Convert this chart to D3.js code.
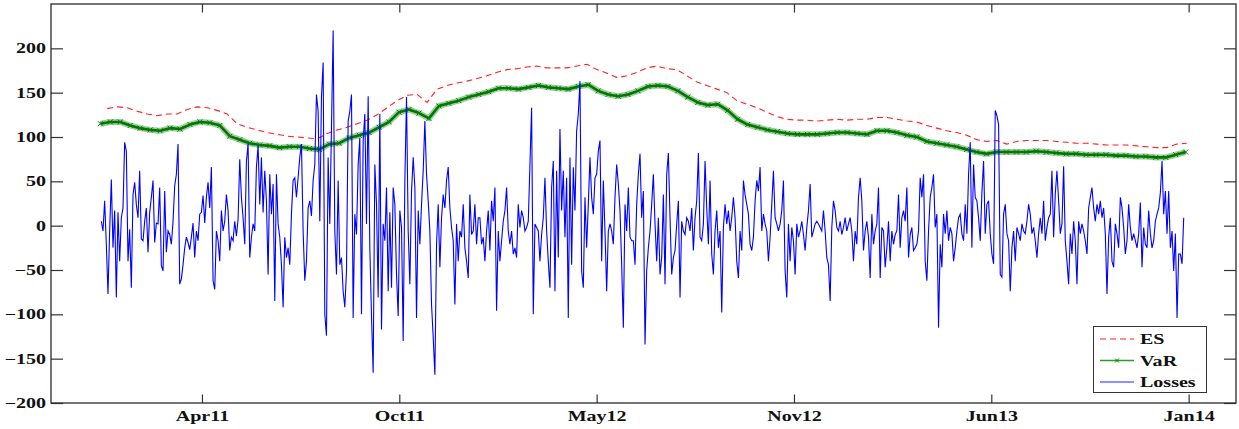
<!DOCTYPE html>
<html><head><meta charset="utf-8">
<script src="https://cdn.jsdelivr.net/npm/d3@7"></script>
<style>html,body{margin:0;padding:0;background:#fff}svg{display:block}</style>
</head><body><svg id="chart" width="1239" height="429"></svg>
<script>
// ---------------- data ----------------
const xTickDates = ["2011-04-07","2011-10-24","2012-05-11","2012-11-27","2013-06-15","2014-01-01"];
const xTickLabels = ["Apr11","Oct11","May12","Nov12","Jun13","Jan14"];
const yTicks = [-200,-150,-100,-50,0,50,100,150,200];
const xDomain = ["2010-11-05","2014-02-18"];
const yDomain = [-200,250];
const lossesPeriod = ["2010-12-26","2013-12-27"];
const varPeriod = ["2010-12-25","2013-12-29"];
const esPeriod = ["2011-01-01","2013-12-30"];
const seriesNames = ["ES","VaR","Losses"];

const losses = [
5,-6,28,-21,-77,-6,52,-25,17,-81,15,-40,9,20,94,84,-40,-4,-70,35,
49,24,9,62,-15,-17,5,20,-30,15,32,51,-19,3,2,43,-45,-51,39,-30,
-6,-10,-21,5,45,58,92,-66,-60,-44,-25,-13,-19,-27,-13,3,-36,-6,-17,13,
15,34,3,32,49,20,66,-62,-72,-6,-17,-40,17,-6,5,35,17,-28,-13,-17,
5,-12,7,75,32,9,-21,73,92,-36,-13,2,-6,66,90,24,77,15,62,28,
-55,58,13,47,-85,58,2,-13,-44,-92,-13,-36,-25,-44,13,51,54,32,54,77,
92,-6,-62,-40,20,28,11,51,69,148,129,5,145,184,-100,-124,77,2,111,220,
-6,-55,51,-44,-36,-74,-92,-51,118,129,148,-104,13,-10,69,99,-100,96,126,2,
146,-25,-102,-166,
69,24,-81,126,-117,2,-17,43,-74,15,-70,43,24,-55,-102,17,-2,-130,51,145,
-6,-66,39,77,43,-104,17,-21,24,62,118,58,28,-6,-89,-126,-168,-21,24,-47,
9,35,20,51,66,20,-2,-17,-89,2,-40,-6,-13,24,-25,-40,-59,35,-10,-6,
24,-21,9,9,-21,-13,-40,-6,17,-28,28,5,43,-96,-6,-40,-17,5,17,43,
-6,-21,-6,-32,-25,-36,24,-2,17,9,-6,-2,5,69,133,-100,2,-2,-6,-40,
-10,9,54,-6,-40,-70,43,73,-74,62,-36,109,17,62,-13,54,-104,77,-44,66,
17,107,126,163,-51,-70,32,-25,24,77,32,13,54,58,84,96,-40,51,-6,-74,
-6,2,-6,-21,32,69,47,17,-44,-115,24,-6,43,-13,-17,-17,-44,24,58,81,
9,39,-134,-51,-25,-6,24,58,
2,-40,9,-55,-36,35,-66,58,82,9,-55,-36,-28,2,28,-81,5,-6,-10,9,
5,-6,20,-28,9,28,82,-13,-17,2,73,20,-21,51,-32,-55,-6,17,-25,-6,
-98,-2,24,2,17,-6,9,32,9,-40,-59,-6,-28,51,35,24,13,-21,-28,-13,
28,51,39,66,-6,13,2,-6,-40,-13,24,62,9,2,-6,2,17,51,-51,-81,
2,-40,-2,-17,-55,2,-13,-6,5,-10,-28,-2,17,47,-13,-6,2,5,2,-2,
-6,17,-6,-36,-44,-85,-2,28,17,-2,-6,5,-10,-2,9,-6,2,9,-6,-40,
-6,-21,32,54,28,-28,-6,5,-13,-59,13,-21,-6,2,43,-59,-2,-6,-47,-25,
5,-40,-6,-21,-10,-6,35,-25,9,17,5,43,-36,-10,-2,-28,-25,-21,-6,54,
32,58,-40,-62,-6,32,43,58,
-2,13,-115,-21,-47,13,-9,17,-17,-2,-9,-40,-25,-6,9,13,-9,-17,24,-9,
58,94,-25,69,32,28,9,-17,37,73,-9,24,28,-9,-32,-43,130,124,114,-55,
-58,13,24,-9,-17,-74,-25,-6,-40,-2,-9,-17,2,-6,-9,5,24,13,-9,-2,
-17,-36,-9,9,-9,28,-17,-2,9,13,62,-13,36,62,28,-9,2,67,-17,-40,
-66,-9,-32,5,-17,-66,5,-9,2,-6,-17,-32,20,32,43,20,5,24,13,28,
9,20,-9,-77,-13,9,-40,-47,2,-9,-25,32,20,-2,-32,-17,24,-2,-17,-9,
-17,-25,-9,26,-47,-2,-21,-25,17,-9,-25,-17,5,13,20,37,73,13,39,-9,
39,-25,-6,-51,-9,-104,-32,-32,-43,9
];

const VaR = [
115,117,117,113,110,108,107,110,109,114,117,116,113,101,97,93,91,90,88,89,
89,87,86,92,93,99,102,105,111,117,128,131,127,121,135,138,141,145,148,151,
155,155,154,156,158,156,155,154,157,159,152,148,146,148,152,157,158,157,152,145,
139,136,137,130,120,114,111,108,106,104,103,103,103,104,105,105,104,103,107,107,
105,102,100,95,93,91,89,86,83,81,83,83,83,83,84,83,82,81,81,80,
80,80,79,79,78,78,77,77,80,83
];

const ES = [
132,134,133,129,126,124,126,126,131,134,133,130,126,115,111,108,105,103,101,100,
99,98,104,108,111,115,119,125,133,141,147,148,139,154,158,161,163,166,169,173,
176,177,179,180,178,178,178,180,182,176,172,167,169,173,178,180,177,176,169,162,
158,154,150,141,137,133,128,123,120,119,119,118,119,120,119,120,120,122,122,120,
118,117,113,110,107,105,102,97,95,96,92,95,96,96,96,95,94,93,93,92,
91,91,91,90,89,88,88,92,93
];

// ---------------- drawing ----------------
const parse = d3.timeParse("%Y-%m-%d");
const svg = d3.select("#chart");
const L = 51, R = 1236, T = 4, B = 403;
const x = d3.scaleTime().domain(xDomain.map(parse)).range([L, R]);
const y = d3.scaleLinear().domain(yDomain).range([B, T]);

function withDates(values, period) {
  const t0 = +parse(period[0]), t1 = +parse(period[1]), n = values.length;
  return values.map((v, i) => ({date: new Date(t0 + (t1 - t0) * i / (n - 1)), value: v}));
}
const lossData = withDates(losses, lossesPeriod);
const varData = withDates(VaR, varPeriod);
const esData = withDates(ES, esPeriod);

const FONT = "'Liberation Serif','Times New Roman',serif";

svg.append("defs").append("clipPath").attr("id","clip")
  .append("rect").attr("x",L).attr("y",T).attr("width",R-L).attr("height",B-T);

const line = d3.line().x(d => x(d.date)).y(d => y(d.value));
const plot = svg.append("g").attr("clip-path","url(#clip)");

// ES
plot.append("path").datum(esData).attr("d", line)
  .attr("fill","none").attr("stroke","#ff2020").attr("stroke-width",1.1)
  .attr("stroke-dasharray","6,4");

// VaR band + markers
plot.append("path").datum(varData).attr("d", line)
  .attr("fill","none").attr("stroke","#4aa84a").attr("stroke-width",6).attr("stroke-opacity",0.55)
  .attr("stroke-linejoin","round");
plot.append("path").datum(varData).attr("d", line)
  .attr("fill","none").attr("stroke","#007800").attr("stroke-width",2.6).attr("stroke-linejoin","round");
const mk = "M-2.5,-2.5L2.5,2.5M-2.5,2.5L2.5,-2.5";
plot.append("g").selectAll("path").data(varData).join("path")
  .attr("transform", d => `translate(${x(d.date)},${y(d.value)})`)
  .attr("d", mk).attr("stroke","#0a7a0a").attr("stroke-width",1).attr("fill","none");

// Losses
plot.append("path").datum(lossData).attr("d", line)
  .attr("fill","none").attr("stroke","#0000ff").attr("stroke-width",1.1).attr("stroke-linejoin","miter");

// axes
const xTicks = xTickDates.map(parse);
const gL = svg.append("g").attr("transform",`translate(${L},0)`)
  .call(d3.axisLeft(y).tickValues(yTicks).tickSizeInner(-12).tickSizeOuter(0).tickPadding(5));
const gR = svg.append("g").attr("transform",`translate(${R},0)`)
  .call(d3.axisRight(y).tickValues(yTicks).tickSizeInner(-12).tickSizeOuter(0).tickFormat(""));
const gB = svg.append("g").attr("transform",`translate(0,${B})`)
  .call(d3.axisBottom(x).tickValues(xTicks).tickSizeInner(-8.5).tickSizeOuter(0).tickPadding(8)
    .tickFormat((d,i) => xTickLabels[i]));
const gT = svg.append("g").attr("transform",`translate(0,${T})`)
  .call(d3.axisTop(x).tickValues(xTicks).tickSizeInner(-8.5).tickSizeOuter(0).tickFormat(""));
[gL,gR,gB,gT].forEach(g => {
  g.select(".domain").remove();
  g.selectAll(".tick line").attr("stroke","#333").attr("stroke-width",1.2);
  g.selectAll("text").attr("font-family",FONT).attr("font-weight","bold")
    .attr("font-size","14.5px").attr("fill","#111");
});
svg.append("rect").attr("x",L).attr("y",T).attr("width",R-L).attr("height",B-T)
  .attr("fill","none").attr("stroke","#2a2a2a").attr("stroke-width",1.3);

// legend
const lg = svg.append("g");
lg.append("rect").attr("x",1093.5).attr("y",326.5).attr("width",113).attr("height",66)
  .attr("fill","#fff").attr("stroke","#333").attr("stroke-width",1);
const legendY = d3.scalePoint().domain(seriesNames).range([339, 382]);
const legendStyle = {
  ES: {stroke:"#ff2020", dash:"6,4", w:1.1},
  VaR: {stroke:"#2e9a2e", dash:null, w:1.3},
  Losses: {stroke:"#2020ff", dash:null, w:1.1}
};
seriesNames.forEach(name => {
  const yy = legendY(name), st = legendStyle[name];
  lg.append("line").attr("x1",1100).attr("x2",1134).attr("y1",yy).attr("y2",yy)
    .attr("stroke",st.stroke).attr("stroke-width",st.w).attr("stroke-dasharray",st.dash);
  if (name === "VaR") {
    lg.append("path").attr("transform",`translate(1117,${yy})`)
      .attr("d","M-2,-2L2,2M-2,2L2,-2").attr("stroke","#0a7a0a").attr("stroke-width",1);
  }
  lg.append("text").attr("x",1140).attr("y",yy).attr("dy","0.35em").text(name)
    .attr("font-family",FONT).attr("font-weight","bold").attr("font-size","14.5px").attr("fill","#111");
});

// horizontal stretch of text, as in the reference rendering
svg.selectAll("text").each(function() {
  const len = this.getComputedTextLength();
  if (len > 0) {
    d3.select(this).attr("textLength", (len * 1.38).toFixed(1)).attr("lengthAdjust","spacingAndGlyphs");
  }
});
</script></body></html>
